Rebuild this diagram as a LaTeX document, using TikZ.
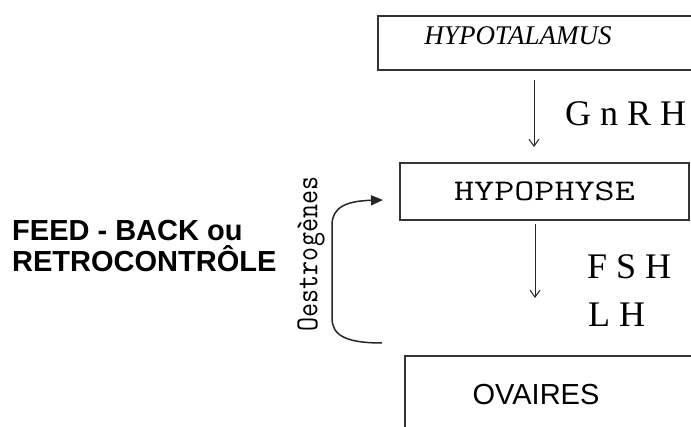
\documentclass[tikz,border=0pt]{standalone}
\usepackage{fontspec}
\setmainfont{Liberation Serif}
\setsansfont{Liberation Sans}
\usetikzlibrary{arrows.meta}

\tikzset{
  boite/.style={draw=black!80, line width=1.6pt, inner sep=0pt},
  fleche/.style={draw=black!85, line width=1pt, -{Straight Barb[length=7pt,width=10pt]}},
  retro/.style={draw=black!85, line width=1.5pt, -{Triangle[length=12pt,width=10pt]}},
  hormone/.style={inner sep=0pt, anchor=west, font=\fontsize{36}{40}\selectfont},
}

\begin{document}
\begin{tikzpicture}[x=1pt,y=-1pt]
\useasboundingbox (0,0) rectangle (691,427);
\clip (0,0) rectangle (691,427);

% les trois organes
\node[boite, anchor=north west, minimum width=360, minimum height=54] (hypot) at (377,15) {};
\node[inner sep=0pt, font=\itshape\fontsize{27}{30}\selectfont] (hypotTxt) at (518,36) {HYPOTALAMUS};

\node[boite, minimum width=289, minimum height=57, font=\ttfamily\fontsize{30}{34}\selectfont] (hypoph) at (544.5,191.5) {\scalebox{1.3}[1]{HYPOPHYSE}};

\node[boite, anchor=north west, minimum width=340, minimum height=100] (ovaires) at (404,355) {};
\node[inner sep=0pt, font=\sffamily\fontsize{29}{32}\selectfont] (ovairesTxt) at (536,395) {OVAIRES};

% hormones
\coordinate (a1) at (534,147);
\coordinate (a2) at (535,298);
\draw[fleche] ([yshift=-9pt]a1 |- hypot.south) -- (a1);
\draw[fleche] ([yshift=-3pt]a2 |- hypoph.south) -- (a2);

\node[hormone] (gnrh) at (565,114) {G n R H};
\node[hormone] (fsh) at (587,266.5) {F S H};
\node[hormone] (lh) at (588,315) {L H};

% retrocontrole
\coordinate (fbBas) at (382,343);
\coordinate (fbHaut) at (383,200);
\draw[retro] (fbBas) .. controls (345,343) and (332,335) .. (332,318)
  -- (332,225) .. controls (332,208) and (345,201) .. (fbHaut);

\node[inner sep=0pt, rotate=90, xscale=0.85, font=\ttfamily\fontsize{32}{36}\selectfont] (oestro) at (311,254) {Oestrogènes};

\node[inner sep=0pt, anchor=north west, align=left, font=\sffamily\bfseries\fontsize{29}{31}\selectfont] (feed) at (12,220) {FEED - BACK ou\\RETROCONTRÔLE};

\end{tikzpicture}
\end{document}
